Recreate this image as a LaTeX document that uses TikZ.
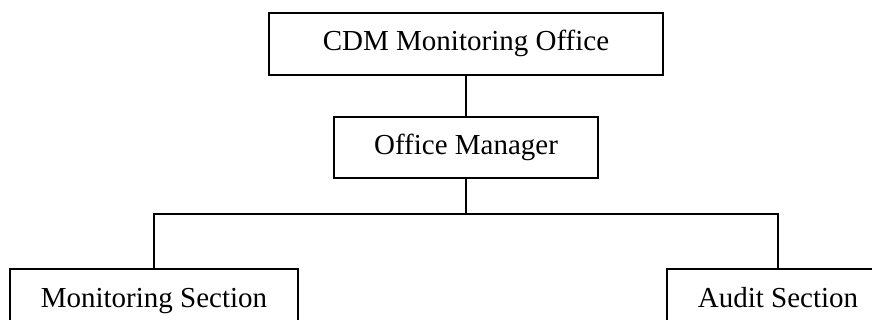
\documentclass[tikz,border=0pt]{standalone}
\usepackage{fontspec}
\setmainfont{Liberation Serif}
\begin{document}
\begin{tikzpicture}[x=1pt,y=-1pt,
  orgbox/.style={draw, line width=1.6pt, inner sep=0pt, align=center,
    font=\fontsize{29}{33}\selectfont, text height=20pt, text depth=6pt},
  link/.style={line width=1.6pt}]
\useasboundingbox (0,0) rectangle (872,320);
\clip (0,0) rectangle (872,320);
\node[orgbox, minimum width=394pt, minimum height=62pt] (top) at (466,44) {CDM Monitoring Office};
\node[orgbox, minimum width=264pt, minimum height=61pt] (om) at (466,147.5) {Office Manager};
\node[orgbox, minimum width=288pt, minimum height=62pt] (ms) at (154,300) {Monitoring Section};
\node[orgbox, minimum width=222pt, minimum height=62pt] (as) at (778,300) {Audit Section};
\coordinate (bus) at (466,214);
\draw[link] (top.south) -- (om.north);
\draw[link] (om.south) -- (bus);
\draw[link] (ms.north) |- (bus) -| (as.north);
\end{tikzpicture}
\end{document}
